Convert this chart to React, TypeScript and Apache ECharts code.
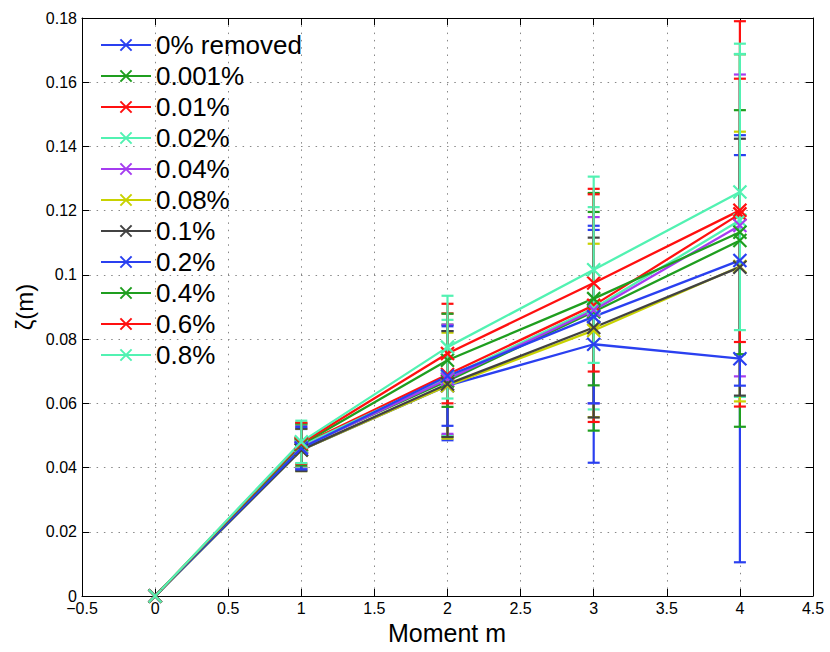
import React, { useEffect, useRef } from "react";
import * as echarts from "echarts";

const moments = [0, 1, 2, 3, 4];
const xTicks = { min: -0.5, max: 4.5, interval: 0.5 };
const yTicks = { min: 0, max: 0.18, interval: 0.02 };

const seriesNames = ["0% removed", "0.001%", "0.01%", "0.02%", "0.04%", "0.08%", "0.1%", "0.2%", "0.4%", "0.6%", "0.8%"];
const seriesColors = ["#2a40f0", "#1f9e1f", "#ff1010", "#52f2b2", "#a53cf0", "#c8d200", "#424242", "#2a40f0", "#1f9e1f", "#ff1010", "#52f2b2"];

const zeta000 = [0, 0.0455, 0.0655, 0.0784, 0.0739];
const err000 = [0, 0.0065, 0.017, 0.0369, 0.0634];
const zeta001 = [0, 0.0465, 0.067, 0.0885, 0.1107];
const err001 = [0, 0.0068, 0.0175, 0.037, 0.058];
const zeta010 = [0, 0.047, 0.069, 0.0905, 0.119];
const err010 = [0, 0.0068, 0.019, 0.0363, 0.06];
const zeta020 = [0, 0.0468, 0.068, 0.0896, 0.117];
const err020 = [0, 0.0068, 0.018, 0.0315, 0.055];
const zeta040 = [0, 0.0462, 0.0675, 0.089, 0.1154];
const err040 = [0, 0.0066, 0.017, 0.029, 0.047];
const zeta080 = [0, 0.0455, 0.0655, 0.0827, 0.1026];
const err080 = [0, 0.0066, 0.0165, 0.027, 0.042];
const zeta100 = [0, 0.0455, 0.066, 0.0836, 0.1024];
const err100 = [0, 0.0066, 0.0165, 0.028, 0.04];
const zeta200 = [0, 0.046, 0.0685, 0.087, 0.1045];
const err200 = [0, 0.0066, 0.0155, 0.027, 0.039];
const zeta400 = [0, 0.0472, 0.0734, 0.0926, 0.1133];
const err400 = [0, 0.0065, 0.0145, 0.027, 0.038];
const zeta600 = [0, 0.0476, 0.0755, 0.0975, 0.1201];
const err600 = [0, 0.0064, 0.0155, 0.0276, 0.041];
const zeta800 = [0, 0.048, 0.0775, 0.1016, 0.1258];
const err800 = [0, 0.0066, 0.016, 0.029, 0.043];

const allMeans = [zeta000, zeta001, zeta010, zeta020, zeta040, zeta080, zeta100, zeta200, zeta400, zeta600, zeta800];
const allErrs = [err000, err001, err010, err020, err040, err080, err100, err200, err400, err600, err800];

const xLabel = "Moment m";
const yLabel = "ζ(m)";

const FONT = "'Liberation Sans', Arial, Helvetica, sans-serif";
const X_SYMBOL = "path://M0,0L10,10M10,0L0,10";

export default function App() {
  const ref = useRef<HTMLDivElement>(null);
  useEffect(() => {
    if (!ref.current) return;
    const chart = echarts.init(ref.current, null, { renderer: "svg" });
    const series: any[] = [];
    seriesNames.forEach((name, i) => {
      const c = seriesColors[i];
      const means = allMeans[i];
      const errs = allErrs[i];
      const ebData = moments
        .map((m, k) => [m, means[k] - errs[k], means[k] + errs[k]])
        .filter((d, k) => errs[k] > 0);
      series.push({
        type: "custom",
        name: name + " err",
        data: ebData,
        encode: { x: 0, y: [1, 2] },
        silent: true,
        renderItem: (params: any, api: any) => {
          const x = api.value(0);
          const lo = api.value(1);
          const hi = api.value(2);
          const p1 = api.coord([x, hi]);
          const p2 = api.coord([x, lo]);
          const w = 6;
          const st = { stroke: c, lineWidth: 2.2, fill: "none" };
          return {
            type: "group",
            children: [
              { type: "line", shape: { x1: p1[0], y1: p1[1], x2: p2[0], y2: p2[1] }, style: st },
              { type: "line", shape: { x1: p1[0] - w, y1: p1[1], x2: p1[0] + w, y2: p1[1] }, style: st },
              { type: "line", shape: { x1: p2[0] - w, y1: p2[1], x2: p2[0] + w, y2: p2[1] }, style: st },
            ],
          };
        },
      });
      series.push({
        type: "line",
        name,
        data: moments.map((m, k) => [m, means[k]]),
        symbol: X_SYMBOL,
        symbolSize: 13,
        showSymbol: true,
        lineStyle: { color: c, width: 2.3 },
        itemStyle: { color: c, borderColor: c, borderWidth: 2.2 },
        emphasis: { disabled: true },
      });
    });

    const option: any = {
      animation: false,
      grid: { left: 82, right: 17, top: 18, bottom: 56 },
      legend: {
        data: seriesNames,
        orient: "vertical",
        left: 100,
        top: 29.5,
        padding: 0,
        itemGap: 0,
        itemWidth: 50,
        itemHeight: 14,
        selectedMode: false,
        textStyle: { fontSize: 26, fontFamily: FONT, color: "#000", lineHeight: 31 },
      },
      xAxis: [
        {
          type: "value",
          ...xTicks,
          position: "bottom",
          axisLine: { show: true, onZero: false, lineStyle: { color: "#000", width: 1 } },
          axisTick: { show: true, inside: true, length: 7, lineStyle: { color: "#000" } },
          axisLabel: {
            fontSize: 16,
            fontFamily: FONT,
            color: "#000",
            margin: 4,
            formatter: (v: number) => (v < 0 ? "\u2212" + Math.abs(v) : String(+v.toFixed(2))),
          },
          splitLine: { show: true, lineStyle: { color: "#888", width: 1, type: [1.5, 5.8] } },
        },
        {
          type: "value",
          ...xTicks,
          position: "top",
          axisLine: { show: true, onZero: false, lineStyle: { color: "#000", width: 1 } },
          axisTick: { show: true, inside: true, length: 7, lineStyle: { color: "#000" } },
          axisLabel: { show: false },
          splitLine: { show: false },
        },
      ],
      yAxis: [
        {
          type: "value",
          ...yTicks,
          position: "left",
          axisLine: { show: true, onZero: false, lineStyle: { color: "#000", width: 1 } },
          axisTick: { show: true, inside: true, length: 7, lineStyle: { color: "#000" } },
          axisLabel: {
            fontSize: 16,
            fontFamily: FONT,
            color: "#000",
            margin: 5,
            formatter: (v: number) => String(+v.toFixed(2)),
          },
          splitLine: { show: true, lineStyle: { color: "#888", width: 1, type: [1.5, 5.8] } },
        },
        {
          type: "value",
          ...yTicks,
          position: "right",
          axisLine: { show: true, onZero: false, lineStyle: { color: "#000", width: 1 } },
          axisTick: { show: true, inside: true, length: 7, lineStyle: { color: "#000" } },
          axisLabel: { show: false },
          splitLine: { show: false },
        },
      ],
      graphic: [
        {
          type: "text",
          x: 447,
          y: 633,
          style: {
            text: xLabel,
            fontSize: 25,
            fontFamily: FONT,
            fill: "#000",
            align: "center",
            verticalAlign: "middle",
          },
        },
        {
          type: "text",
          x: 24,
          y: 307,
          rotation: Math.PI / 2,
          style: {
            text: yLabel,
            fontSize: 24,
            fontFamily: FONT,
            fill: "#000",
            align: "center",
            verticalAlign: "middle",
          },
        },
      ],
      series,
    };
    chart.setOption(option);
    return () => chart.dispose();
  }, []);
  return (
    <div
      ref={ref}
      style={{ position: "fixed", left: 0, top: 0, width: 830, height: 652, background: "#fff" }}
    />
  );
}
